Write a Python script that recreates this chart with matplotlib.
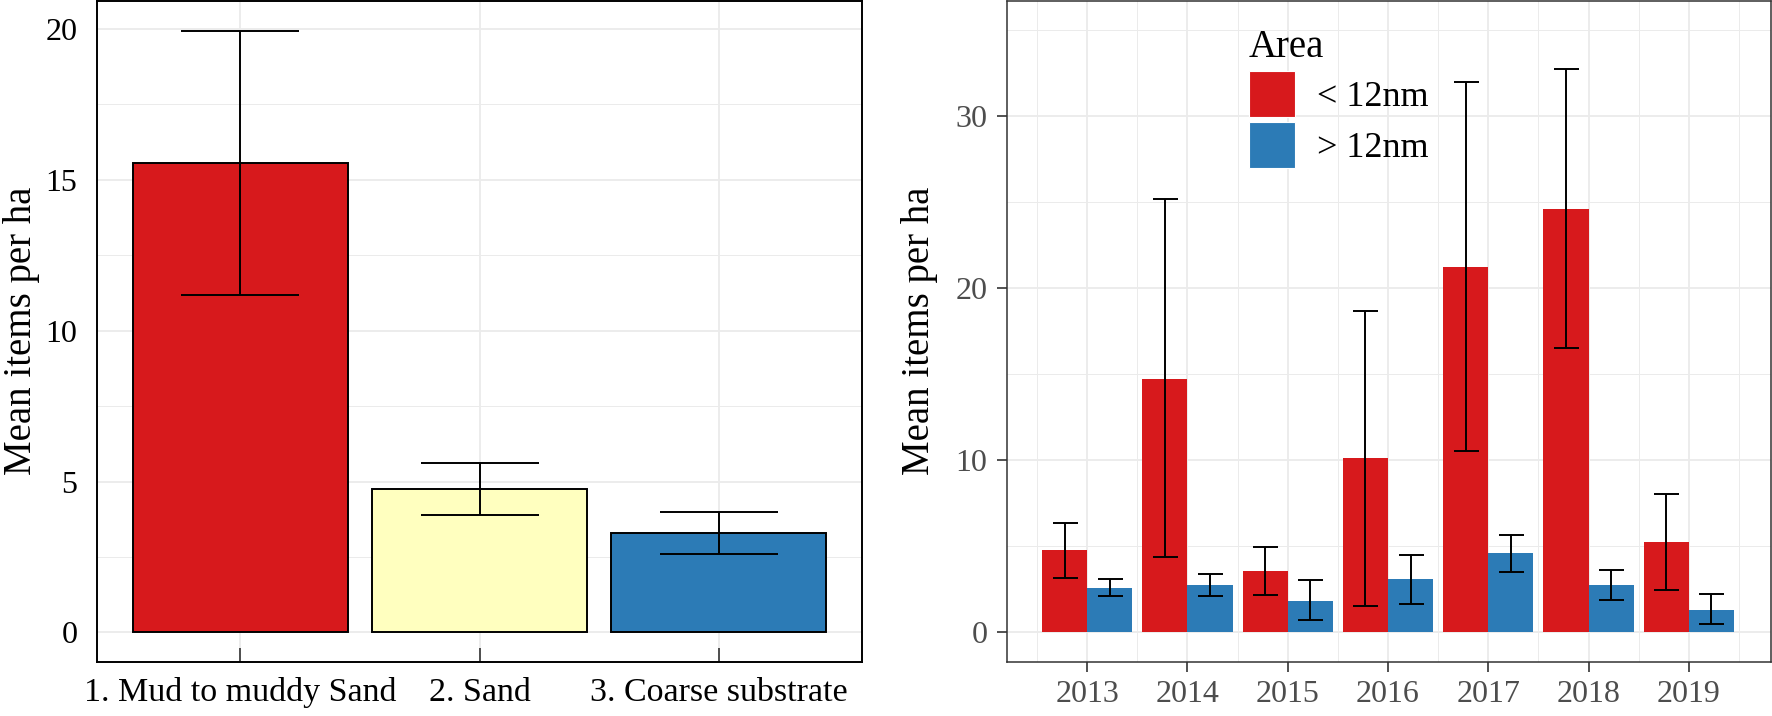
import numpy as np
import matplotlib.pyplot as plt
from matplotlib.patches import Patch

plt.rcParams['font.family'] = ['Liberation Serif', 'DejaVu Serif']

# Left panel: mean items per ha by substrate
substrates = ['1. Mud to muddy Sand', '2. Sand', '3. Coarse substrate']
substrate_mean = [15.55, 4.75, 3.30]
substrate_lo = [11.19, 3.90, 2.60]
substrate_hi = [19.93, 5.62, 4.00]
substrate_colors = ['#D7191C', '#FFFFBF', '#2C7BB6']

# Right panel: mean items per ha by year and area
years = ['2013', '2014', '2015', '2016', '2017', '2018', '2019']
areas = ['< 12nm', '> 12nm']
inside_mean = [4.75, 14.72, 3.55, 10.10, 21.22, 24.59, 5.21]
inside_lo = [3.16, 4.35, 2.15, 1.54, 10.53, 16.50, 2.42]
inside_hi = [6.34, 25.20, 4.96, 18.65, 31.99, 32.73, 8.05]
outside_mean = [2.57, 2.73, 1.83, 3.06, 4.58, 2.73, 1.30]
outside_lo = [2.10, 2.10, 0.72, 1.65, 3.47, 1.88, 0.45]
outside_hi = [3.08, 3.40, 3.02, 4.50, 5.66, 3.59, 2.19]
area_colors = ['#D7191C', '#2C7BB6']

W, H = 1772, 716
fig = plt.figure(figsize=(W / 100, H / 100), dpi=100)

def px_axes(x0, x1, y_top, y_bot):
    return fig.add_axes([x0 / W, (H - y_bot) / H, (x1 - x0) / W, (y_bot - y_top) / H])

grid_col = '#EBEBEB'

# ---- left panel ----
ax1 = px_axes(97, 862, 0.5, 662)
x1 = np.arange(1, len(substrates) + 1)
ax1.bar(x1, substrate_mean, width=0.9, color=substrate_colors,
        edgecolor='black', linewidth=1.4, zorder=2)
m = np.array(substrate_mean)
yerr1 = [m - np.array(substrate_lo), np.array(substrate_hi) - m]
ax1.errorbar(x1, m, yerr=yerr1, fmt='none', ecolor='black', elinewidth=1.4,
             capsize=42.5, capthick=1.4, zorder=3)
ax1.set_xlim(0.4, 3.6)
ax1.set_ylim(-0.98, 20.94)
ax1.set_xticks(x1)
ax1.set_xticklabels(substrates, fontsize=24.5, color='black')
ax1.set_yticks([0, 5, 10, 15, 20])
ax1.set_yticks([2.5, 7.5, 12.5, 17.5], minor=True)
ax1.tick_params(axis='y', which='both', length=0, pad=14, labelsize=23, labelcolor='black')
ax1.tick_params(axis='x', direction='in', length=10, width=1.2, color='#333333', pad=11)
ax1.grid(axis='y', which='major', color=grid_col, linewidth=1.3, zorder=0)
ax1.grid(axis='y', which='minor', color=grid_col, linewidth=0.7, zorder=0)
ax1.grid(axis='x', which='major', color=grid_col, linewidth=1.3, zorder=0)
ax1.set_axisbelow(True)
for s in ax1.spines.values():
    s.set_color('black')
    s.set_linewidth(1.4)
ax1.set_ylabel('Mean items per ha', fontsize=28)
ax1.yaxis.set_label_coords(-0.075, 0.5)

# ---- right panel ----
ax2 = px_axes(1007, 1771, 0.5, 662)
x2 = np.arange(1, len(years) + 1)
bw = 0.45
for off, mean, lo, hi, col in [(-bw / 2, inside_mean, inside_lo, inside_hi, area_colors[0]),
                               (bw / 2, outside_mean, outside_lo, outside_hi, area_colors[1])]:
    mean = np.array(mean)
    ax2.bar(x2 + off, mean, width=bw, color=col, linewidth=0, zorder=2)
    ax2.errorbar(x2 + off, mean, yerr=[mean - np.array(lo), np.array(hi) - mean],
                 fmt='none', ecolor='black', elinewidth=1.4, capsize=9,
                 capthick=1.4, zorder=3)
ax2.set_xlim(0.2, 7.82)
ax2.set_ylim(-1.74, 36.72)
ax2.set_xticks(x2)
ax2.set_xticklabels(years)
ax2.set_xticks(np.arange(0.5, 8.0, 1.0), minor=True)
ax2.set_yticks([0, 10, 20, 30])
ax2.set_yticks([5, 15, 25, 35], minor=True)
ax2.tick_params(axis='both', which='major', direction='out', length=7, width=1.2,
                color='#333333', labelsize=23, labelcolor='#4D4D4D', pad=7)
ax2.tick_params(axis='x', which='major', pad=6)
ax2.tick_params(axis='both', which='minor', length=0)
ax2.grid(which='major', color=grid_col, linewidth=1.3, zorder=0)
ax2.grid(which='minor', color=grid_col, linewidth=0.7, zorder=0)
ax2.set_axisbelow(True)
for s in ax2.spines.values():
    s.set_color('#333333')
    s.set_linewidth(1.1)
ax2.set_ylabel('Mean items per ha', fontsize=28)
ax2.yaxis.set_label_coords(-0.09, 0.5)

handles = [Patch(facecolor=c, edgecolor='white', linewidth=0.8) for c in area_colors]
leg = ax2.legend(handles, areas, title='Area', loc='upper left',
                 bbox_to_anchor=(1249 / W, (H - 29) / H), bbox_transform=fig.transFigure,
                 frameon=False, fontsize=26, title_fontsize=28,
                 handlelength=1.28, handleheight=1.59, labelspacing=0.14,
                 handletextpad=0.61, borderpad=0, borderaxespad=0)
leg._legend_box.align = 'left'

fig.savefig('out.png', dpi=100)
